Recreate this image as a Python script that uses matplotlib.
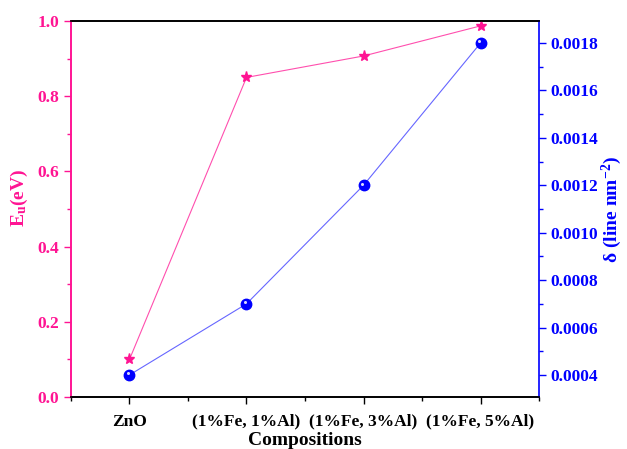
import matplotlib
matplotlib.use("Agg")
import matplotlib.pyplot as plt
from matplotlib.ticker import MultipleLocator, FormatStrFormatter
from matplotlib.transforms import offset_copy

plt.rcParams['font.family'] = ['Liberation Serif', 'DejaVu Serif']
plt.rcParams['font.weight'] = 'bold'
plt.rcParams['mathtext.fontset'] = 'custom'
plt.rcParams['mathtext.rm'] = 'Liberation Serif:weight=bold'
plt.rcParams['mathtext.it'] = 'Liberation Serif:style=italic:weight=bold'
plt.rcParams['mathtext.bf'] = 'Liberation Serif:weight=bold'
plt.rcParams['mathtext.default'] = 'bf'

compositions = ["ZnO", "(1%Fe, 1%Al)", "(1%Fe, 3%Al)", "(1%Fe, 5%Al)"]
urbach_energy = [0.10, 0.85, 0.907, 0.987]
dislocation_density = [0.0004, 0.0007, 0.0012, 0.0018]

pink = "#ff1493"
blue = "#0000ff"

fig = plt.figure(figsize=(6.27, 4.49), dpi=100)
ax = fig.add_axes([0.1132, 0.1158, 0.7465, 0.8374])
ax2 = ax.twinx()

xs = list(range(1, len(compositions) + 1))

ax.plot(xs, urbach_energy, color=pink, lw=0.8, alpha=0.75, zorder=2)
ax.plot(xs, urbach_energy, ls='none', marker='*', ms=8, color=pink, zorder=3)

ax2.plot(xs, dislocation_density, color=blue, lw=0.8, alpha=0.6, zorder=2)
ax2.plot(xs, dislocation_density, ls='none', marker='o', ms=7.5, color=blue, zorder=3)
# small off-centre highlight so the blue markers look like shaded balls
shine = offset_copy(ax2.transData, fig=fig, x=-1.2, y=1.2, units='points')
ax2.plot(xs, dislocation_density, ls='none', marker='o', ms=2.2, color='white',
         mew=0, alpha=0.85, zorder=4, transform=shine)

ax.set_xlim(0.5, 4.5)
ax.set_xticks(xs)
ax.set_xticklabels(compositions)
ax.xaxis.set_minor_locator(MultipleLocator(0.5))
ax.set_ylim(0, 1.0)
ax.yaxis.set_major_locator(MultipleLocator(0.2))
ax.yaxis.set_minor_locator(MultipleLocator(0.1))
ax.yaxis.set_major_formatter(FormatStrFormatter('%.1f'))

ax2.set_ylim(0.000307, 0.001893)
ax2.yaxis.set_major_locator(MultipleLocator(0.0002))
ax2.yaxis.set_minor_locator(MultipleLocator(0.0001))
ax2.yaxis.set_major_formatter(FormatStrFormatter('%.4f'))

ax.tick_params(axis='x', which='major', direction='out', length=5, width=1,
               labelsize=12.5, colors='black', pad=7)
ax.tick_params(axis='x', which='minor', direction='out', length=3, width=1)
ax.tick_params(axis='y', which='major', direction='out', length=5, width=1,
               labelsize=12.5, colors=pink, labelcolor=pink)
ax.tick_params(axis='y', which='minor', direction='out', length=3, width=1, colors=pink)
ax2.tick_params(axis='y', which='major', direction='out', length=5, width=1,
                labelsize=12.5, colors=blue, labelcolor=blue)
ax2.tick_params(axis='y', which='minor', direction='out', length=3, width=1, colors=blue)

for a in (ax, ax2):
    a.spines['top'].set_color('black')
    a.spines['bottom'].set_color('black')
    for s in a.spines.values():
        s.set_linewidth(1.2)
ax2.spines['left'].set_color(pink)
ax2.spines['right'].set_color(blue)
ax.spines['left'].set_color(pink)
ax.spines['right'].set_visible(False)

for lbl in ax.get_xticklabels() + ax.get_yticklabels() + ax2.get_yticklabels():
    lbl.set_fontweight('bold')

ax.set_xlabel("Compositions", fontsize=14, fontweight='bold', labelpad=2)
ax.set_ylabel(r"$E_u(eV)$", fontsize=14, color=pink, labelpad=6)
ax.yaxis.set_label_coords(-0.087, 0.53)
ax2.set_ylabel(r"$δ\ (line\ nm^{-2})$", fontsize=14, color=blue, labelpad=1)

fig.savefig("out.png", dpi=100)
